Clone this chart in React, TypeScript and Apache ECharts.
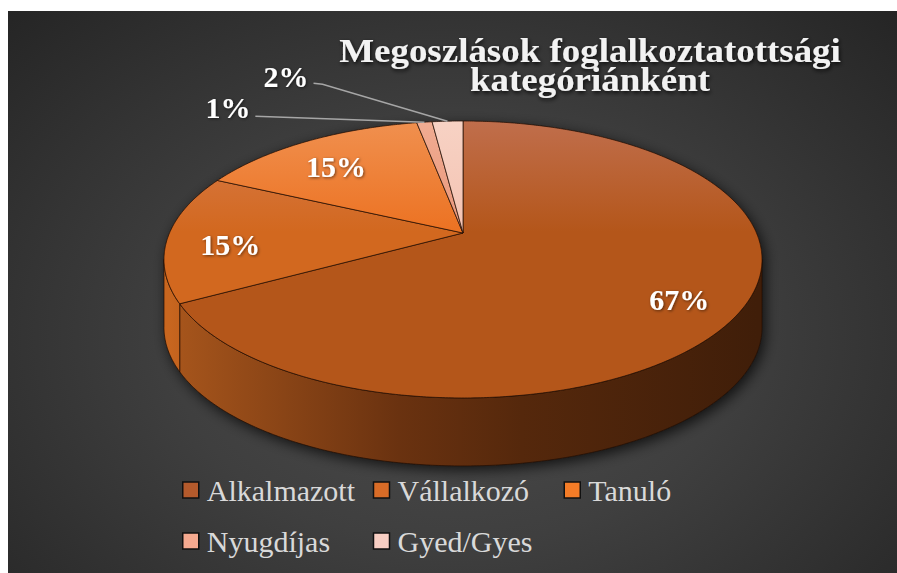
import React, { useEffect, useRef } from 'react';
import * as echarts from 'echarts';

// ---------- data ----------
const categories = ['Alkalmazott', 'Vállalkozó', 'Tanuló', 'Nyugdíjas', 'Gyed/Gyes'];
const shares = [67, 15, 15, 1, 2];
const titleText = 'Megoszlások foglalkoztatottsági\nkategóriánként';

// ---------- styles ----------
const legendColors = ['#B45A2C', '#D96C27', '#F47C27', '#F5A98F', '#F8CEC3'];
const topLight = ['#C06E4C', '#D87D4E', '#F0904F', '#F0AC92', '#F7D2C4'];
const topBase = ['#B4561A', '#D2681F', '#EC7222', '#EA977B', '#F4C3B2'];
const wallStops = [
  [[0, '#A8561C'], [0.39, '#6A3210'], [0.6, '#55280C'], [1, '#401E09']],
  [[0, '#C8661F'], [0.08, '#B25618'], [1, '#8A4010']],
  [[0, '#E06A1E'], [1, '#B0541A']],
  [[0, '#D98A70'], [1, '#B87058']],
  [[0, '#E8B5A5'], [1, '#C89888']],
];
const EDGE = 'rgba(35,14,3,0.9)';
const FONT = '"Liberation Serif", "Times New Roman", serif';

// ---------- layout ----------
const W = 889;
const H = 562;
const CX = 455;
const CY = 222;
const RA = 293.5;
const RB = 133.4;
const KP = 0.1913;
const TH = 68;
const LABEL_R = 0.79;
const LABEL_DY = 8;
const outsideLayout: Record<number, { text: [number, number]; line: [number, number][] }> = {
  3: { text: [-174, -15], line: [[-169, -6], [0, 0]] },
  4: { text: [-139, -45], line: [[-134, -38], [-125, -37], [0, 0]] },
};

const TAU = Math.PI * 2;
const VIS0 = Math.acos(-KP);
const VIS1 = TAU - VIS0;

function proj(phi: number, r = 1): [number, number] {
  const u = Math.sin(phi) * r;
  const v = -Math.cos(phi) * r;
  const d = 1 - KP * v;
  return [CX + (RA * u) / d, CY + (RB * v) / d];
}
function arc(a: number, b: number, r = 1): [number, number][] {
  const n = Math.max(2, Math.ceil(Math.abs(b - a) / (Math.PI / 360)) + 1);
  const pts: [number, number][] = [];
  for (let i = 0; i < n; i++) pts.push(proj(a + ((b - a) * i) / (n - 1), r));
  return pts;
}

const total = shares.reduce((s, v) => s + v, 0);
const starts: number[] = [];
{
  let acc = 0;
  for (const v of shares) {
    starts.push((acc / total) * TAU);
    acc += v;
  }
}

const topY = CY - RB / (1 + KP);
const botY = CY + RB / (1 - KP);

function topGrad(i: number) {
  return {
    type: 'linear', x: 0, y: topY, x2: 0, y2: botY, global: true,
    colorStops: [
      { offset: 0, color: topLight[i] },
      { offset: 0.4, color: topBase[i] },
      { offset: 1, color: topBase[i] },
    ],
  };
}
function wallGrad(i: number) {
  return {
    type: 'linear', x: CX - RA, y: 0, x2: CX + RA, y2: 0, global: true,
    colorStops: wallStops[i].map(([o, c]) => ({ offset: o as number, color: c as string })),
  };
}

function makeSliceSeries(i: number) {
  return {
    type: 'custom',
    name: categories[i],
    coordinateSystem: 'none',
    itemStyle: { color: legendColors[i], borderColor: '#111', borderWidth: 1.5 },
    data: [{ name: categories[i], value: shares[i] }],
    renderItem: (_params: any, api: any) => {
      const val = api.value(0) as number;
      const p0 = starts[i];
      const p1 = p0 + (val / total) * TAU;
      const children: any[] = [];
      const a = Math.max(p0, VIS0);
      const b = Math.min(p1, VIS1);
      if (b > a) {
        const top = arc(a, b);
        const bottom = top.map(([x, y]) => [x, y + TH] as [number, number]).reverse();
        children.push({
          type: 'polygon',
          shape: { points: top.concat(bottom) },
          style: { fill: wallGrad(i), stroke: EDGE, lineWidth: 0.8, lineJoin: 'round' },
        });
      }
      children.push({
        type: 'polygon',
        shape: { points: [[CX, CY] as [number, number]].concat(arc(p0, p1)) },
        style: { fill: topGrad(i), stroke: EDGE, lineWidth: 0.8, lineJoin: 'round' },
      });
      const pct = Math.round((val / total) * 100);
      const mid = (p0 + p1) / 2;
      const labelStyle = {
        text: pct + '%',
        fill: '#FFFFFF',
        font: 'bold 30px ' + FONT,
        verticalAlign: 'middle',
        textShadowColor: 'rgba(0,0,0,0.55)',
        textShadowBlur: 3,
        textShadowOffsetX: 1,
        textShadowOffsetY: 1,
      };
      if (!outsideLayout[i]) {
        const [lx, ly] = proj(mid, LABEL_R);
        children.push({ type: 'text', x: lx, y: ly + LABEL_DY, z2: 20, style: { ...labelStyle, align: 'center' } });
      } else {
        const [rx, ry] = proj(mid);
        const o = outsideLayout[i];
        children.push({
          type: 'polyline',
          z2: 15,
          shape: { points: o.line.map(([dx, dy]) => [rx + dx, ry + dy]) },
          style: { stroke: '#A6A6A6', lineWidth: 1.5, fill: null },
        });
        children.push({
          type: 'text', x: rx + o.text[0], y: ry + o.text[1], z2: 20,
          style: { ...labelStyle, align: 'right' },
        });
      }
      return { type: 'group', children };
    },
  };
}

const shadowSeries = {
  type: 'custom',
  name: '__shadow',
  coordinateSystem: 'none',
  silent: true,
  data: [0],
  renderItem: () => {
    const back = arc(VIS1 - TAU, VIS0);
    const front = arc(VIS0, VIS1).map(([x, y]) => [x, y + TH] as [number, number]);
    return {
      type: 'polygon',
      shape: { points: back.concat(front) },
      style: {
        fill: '#1e1e1e',
        shadowBlur: 14,
        shadowColor: 'rgba(0,0,0,0.75)',
        shadowOffsetX: 3,
        shadowOffsetY: 4,
      },
    };
  },
};

const legendCommon = {
  left: 174,
  orient: 'horizontal',
  itemGap: 0,
  itemWidth: 16,
  itemHeight: 16,
  icon: 'rect',
  padding: 0,
  selectedMode: false,
  textStyle: {
    color: '#D9D9D9',
    fontFamily: FONT,
    fontSize: 30,
    lineHeight: 32,
    width: 166,
    padding: [0, 0, 0, 3],
  },
};

const legendItem = (name: string) => {
  const i = categories.indexOf(name);
  return { name, itemStyle: { color: legendColors[i], borderColor: '#111', borderWidth: 1.5 } };
};

export default function App() {
  const ref = useRef<HTMLDivElement>(null);
  useEffect(() => {
    if (!ref.current) return;
    const chart = echarts.init(ref.current, undefined, { renderer: 'svg' });
    chart.setOption({
      animation: false,
      backgroundColor: 'transparent',
      legend: [
        { ...legendCommon, top: 463, data: categories.slice(0, 3).map(legendItem) },
        { ...legendCommon, top: 514, data: categories.slice(3).map(legendItem) },
      ],
      graphic: [
        {
          type: 'text',
          x: 582,
          y: 25.4,
          scaleX: 1.12,
          z: 100,
          style: {
            text: titleText,
            fill: '#F2F2F2',
            font: 'bold 33px ' + FONT,
            align: 'center',
            verticalAlign: 'top',
            lineHeight: 29,
            textShadowColor: 'rgba(0,0,0,0.8)',
            textShadowBlur: 4,
            textShadowOffsetX: 1,
            textShadowOffsetY: 2,
          },
        },
      ],
      series: [shadowSeries, ...categories.map((_, i) => makeSliceSeries(i))],
    } as any);
    return () => chart.dispose();
  }, []);
  return (
    <div
      ref={ref}
      style={{
        position: 'absolute',
        left: 8,
        top: 11,
        width: W,
        height: H,
        background:
          'radial-gradient(ellipse farthest-corner at 50% 58%, #4d4d4d 0%, #3f3f3f 45%, #252525 100%)',
      }}
    />
  );
}
